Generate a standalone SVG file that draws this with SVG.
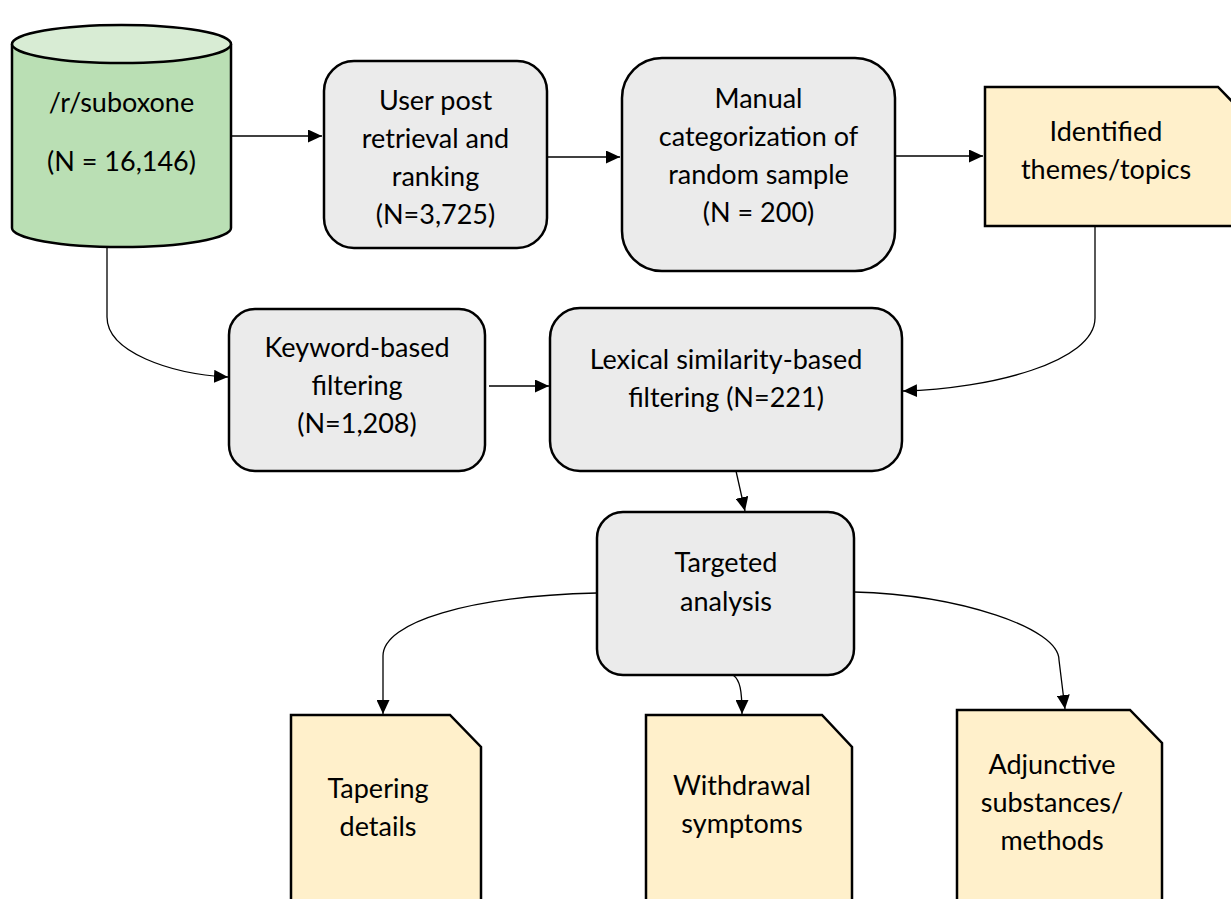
<svg xmlns="http://www.w3.org/2000/svg" width="1231" height="899" viewBox="0 0 1231 899">
<style>
.box{fill:#ebebeb;stroke:#000;stroke-width:2.5}
.doc{fill:#fff0cb;stroke:#000;stroke-width:2.5}
.cyl{fill:#badfb4;stroke:#000;stroke-width:2.5}
.cyltop{fill:#d8ecd4;stroke:#000;stroke-width:2.5}
.t{font-family:Lato,"Liberation Sans",sans-serif;font-size:27px;fill:#000;text-anchor:middle}
.c{fill:none;stroke:#000;stroke-width:1.3}
</style>
<defs>
<marker id="ah" markerUnits="userSpaceOnUse" markerWidth="15" markerHeight="13" refX="14" refY="6.5" orient="auto">
<path d="M0,0 L14,6.5 L0,13 z" fill="#000"/>
</marker>
</defs>
<rect width="1231" height="899" fill="#fff"/>
<g id="connectors">
<path class="c" d="M231,136 L322,136" marker-end="url(#ah)"/>
<path class="c" d="M547,157 L620,157" marker-end="url(#ah)"/>
<path class="c" d="M895,156 L983,156" marker-end="url(#ah)"/>
<path class="c" d="M107,247 L107,317 C107,352 170,374 228,377" marker-end="url(#ah)"/>
<path class="c" d="M489,386 L549,386" marker-end="url(#ah)"/>
<path class="c" d="M1095,226 L1095,318 C1095,362 990,389 903,391" marker-end="url(#ah)"/>
<path class="c" d="M736,471 L745,511" marker-end="url(#ah)"/>
<path class="c" d="M597,593 C470,596 383,622 383,656 L383,714" marker-end="url(#ah)"/>
<path class="c" d="M733,675 C740,680 742,690 742,714" marker-end="url(#ah)"/>
<path class="c" d="M854,592 C960,595 1059,628 1059,660 L1065,709" marker-end="url(#ah)"/>
</g>
<g id="subreddit">
<path class="cyl" d="M12,44 L12,228 A109.5,19 0 0 0 231,228 L231,44"/>
<ellipse class="cyltop" cx="121.5" cy="44" rx="109.5" ry="19"/>
<text class="t" x="121.5" y="112">/r/suboxone</text>
<text class="t" x="121.5" y="171">(N = 16,146)</text>
</g>
<g id="retrieval">
<rect class="box" x="324" y="61" width="223" height="187" rx="30"/>
<text class="t" x="435.5" y="110">User post</text>
<text class="t" x="435.5" y="148">retrieval and</text>
<text class="t" x="435.5" y="186">ranking</text>
<text class="t" x="435.5" y="224">(N=3,725)</text>
</g>
<g id="manual">
<rect class="box" x="622" y="58" width="273" height="213" rx="40"/>
<text class="t" x="758.5" y="108">Manual</text>
<text class="t" x="758.5" y="146">categorization of</text>
<text class="t" x="758.5" y="184">random sample</text>
<text class="t" x="758.5" y="222">(N = 200)</text>
</g>
<g id="themes">
<path class="doc" d="M985,87 L1218,87 L1250,120 L1250,226 L985,226 Z"/>
<text class="t" x="1106" y="141">Identified</text>
<text class="t" x="1106" y="179">themes/topics</text>
</g>
<g id="keyword">
<rect class="box" x="229" y="309" width="256" height="162" rx="26"/>
<text class="t" x="357" y="357">Keyword-based</text>
<text class="t" x="357" y="395">filtering</text>
<text class="t" x="357" y="433">(N=1,208)</text>
</g>
<g id="lexical">
<rect class="box" x="550" y="308" width="352" height="163" rx="30"/>
<text class="t" x="726" y="369">Lexical similarity-based</text>
<text class="t" x="726" y="407">filtering (N=221)</text>
</g>
<g id="targeted">
<rect class="box" x="597" y="512" width="257" height="163" rx="26"/>
<text class="t" x="726" y="572">Targeted</text>
<text class="t" x="726" y="611">analysis</text>
</g>
<g id="tapering">
<path class="doc" d="M291,715 L450,715 L481,747 L481,920 L291,920 Z"/>
<text class="t" x="378" y="798">Tapering</text>
<text class="t" x="378" y="836">details</text>
</g>
<g id="withdrawal">
<path class="doc" d="M646,715 L822,715 L852,747 L852,920 L646,920 Z"/>
<text class="t" x="742" y="795">Withdrawal</text>
<text class="t" x="742" y="833">symptoms</text>
</g>
<g id="adjunctive">
<path class="doc" d="M957,710 L1130,710 L1162,743 L1162,920 L957,920 Z"/>
<text class="t" x="1052" y="774">Adjunctive</text>
<text class="t" x="1052" y="812">substances/</text>
<text class="t" x="1052" y="850">methods</text>
</g>
</svg>
